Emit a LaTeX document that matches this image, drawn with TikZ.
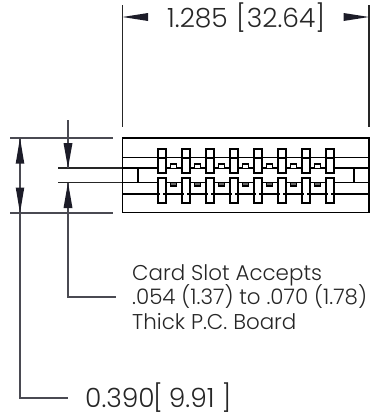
\documentclass[tikz,border=0pt]{standalone}
\usepackage{fontspec}
\setmainfont{Poppins Light}
\usetikzlibrary{arrows.meta}
\definecolor{dimc}{HTML}{4A4A52}
\definecolor{tipc}{HTML}{1C1C28}
\tikzset{
 dimline/.style={draw=dimc,line width=1.4pt},
 extline/.style={draw=black!85,line width=1.2pt},
 boxline/.style={draw=black,line width=1.7pt},
 pinline/.style={draw=black,line width=2pt},
 tipshape/.style={fill=tipc,draw=none},
 dimtext/.style={anchor=base west,inner sep=0pt,font=\fontsize{26.5}{26.5}\selectfont,text=black!85},
 notetext/.style={anchor=base west,inner sep=0pt,font=\fontsize{21.4}{21.4}\selectfont,text=black!85},
}
\begin{document}
\begin{tikzpicture}[x=1pt,y=-1pt]
\useasboundingbox (0,0) rectangle (373,416);
% top dimension
\draw[extline] (122.5,5) -- (122.5,127);
\draw[extline] (369,5) -- (369,127);
\fill[tipshape] (122.5,17) -- (148,13) -- (148,21) -- cycle;
\fill[tipshape] (369,17) -- (343.5,13) -- (343.5,21) -- cycle;
\node[dimtext] (w) at (167,27) {1.285};
\node[dimtext] (wb) at (236,27) {[\hspace{1pt}32.64\hspace{0pt}]};
% left extension lines
\draw[dimline] (10,138) -- (113,138);
\draw[dimline] (10,213) -- (113,213);
\draw[extline] (58,168) -- (122,168);
\draw[extline] (58,182.5) -- (122,182.5);
% overall height
\coordinate (c1) at (20,398);
\coordinate (c2) at (68,398);
\node[dimtext] (h) at (85,407) {0.390};
\node[dimtext] (hb) at (153,407) {[\hspace{6pt}9.91\hspace{7pt}]};
\draw[dimline] (20,138) -- (c1) -- (c2);
\fill[tipshape] (20,138) -- (15.7,163.5) -- (24.3,163.5) -- cycle;
\fill[tipshape] (20,213) -- (15.7,187.5) -- (24.3,187.5) -- cycle;
% card slot
\coordinate (c3) at (68,297);
\coordinate (c4) at (116,297);
\draw[dimline] (68,120) -- (68,168);
\draw[dimline] (68,182.5) -- (c3) -- (c4);
\fill[tipshape] (68,168) -- (63.5,143) -- (72.5,143) -- cycle;
\fill[tipshape] (68,182.5) -- (63.5,208) -- (72.5,208) -- cycle;
\node[notetext] (n1) at (132,280) {Card Slot Accepts};
\node[notetext] (n2) at (132,304) {.054 (1.37) to .070 (1.78)};
\node[notetext] (n3) at (132,329) {Thick P.C. Board};
% housing
\draw[boxline] (122.5,138) rectangle (369,212.5);
\foreach \y in {157.5,168.3,182.5,194}
  \draw[boxline] (122.5,\y) -- (369,\y);
\draw[boxline] (137.7,168.3) -- (137.7,182.5);
\draw[boxline] (354,168.3) -- (354,182.5);
% contacts
\foreach \i in {0,...,7}{
  \pgfmathsetmacro{\cx}{161.7+24*\i}
  \draw[pinline,fill=white] (\cx-4,148.5) rectangle (\cx+4,172.7);
  \draw[pinline,fill=white] (\cx-4,178) rectangle (\cx+4,203.3);
  \draw[pinline] (\cx-4,157.5) -- (\cx+4,157.5);
  \draw[pinline] (\cx-4,194) -- (\cx-1.5,194);
  \draw[pinline] (\cx+1.5,194) -- (\cx+4,194);
}
\foreach \i in {0,...,6}{
  \pgfmathsetmacro{\cx}{173.7+24*\i}
  \draw[draw=black,line width=1.3pt,fill=white] (\cx-3,164) rectangle (\cx+3,168.3);
  \draw[draw=black,line width=1.3pt,fill=black!60] (\cx-3,182.5) rectangle (\cx+3,186);
}
\end{tikzpicture}
\end{document}
